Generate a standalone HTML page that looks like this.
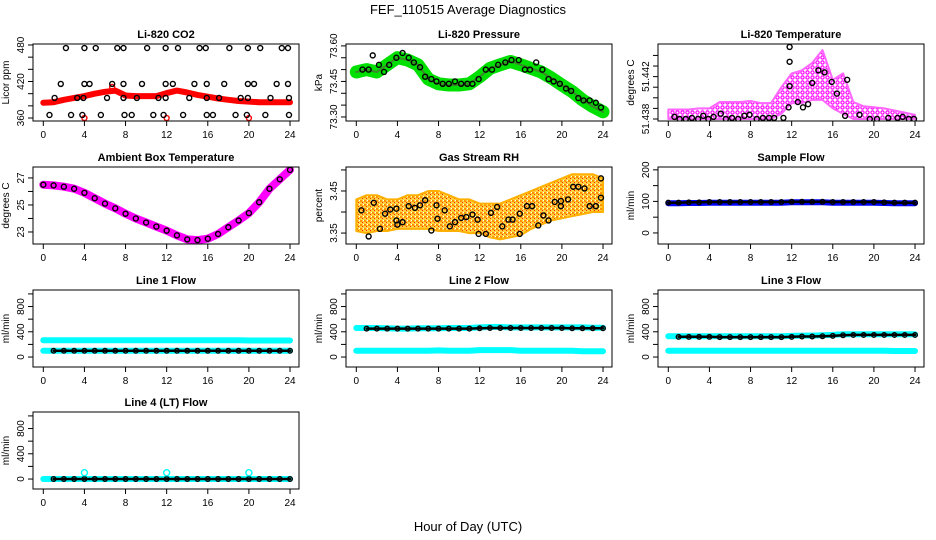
<!DOCTYPE html>
<html><head><meta charset="utf-8"><title>FEF_110515 Average Diagnostics</title>
<style>
html,body{margin:0;padding:0;background:#fff;}
svg{display:block;font-family:"Liberation Sans",sans-serif;}
</style></head>
<body>
<svg id="chart" width="936" height="540" viewBox="0 0 936 540" xmlns="http://www.w3.org/2000/svg">
<defs>
<pattern id="rhpat" width="4" height="4" patternUnits="userSpaceOnUse"><rect width="4" height="4" fill="#FFD040"/><rect x="0" y="0" width="2" height="2" fill="#FF9000"/><rect x="2" y="2" width="1" height="1" fill="#FF2000"/><rect x="3" y="0" width="1" height="1" fill="#fff"/></pattern>
<pattern id="tpat" width="5" height="5" patternUnits="userSpaceOnUse"><rect width="5" height="5" fill="#fff"/><circle cx="2.5" cy="2.5" r="1.6" fill="none" stroke="#FF00FF" stroke-width="1.2"/></pattern>
</defs>
<rect width="936" height="540" fill="#fff"/>
<text x="468" y="14" font-size="13" text-anchor="middle">FEF_110515  Average Diagnostics</text>
<text x="468" y="531" font-size="13" text-anchor="middle">Hour of Day (UTC)</text>
</svg>
<script>
const hours = [0,1,2,3,4,5,6,7,8,9,10,11,12,13,14,15,16,17,18,19,20,21,22,23,24];
const xTicks = [0,4,8,12,16,20,24];

const co2Band = [385,386,390,393,396,400,403,405,397,396,396,396,401,405,402,398,395,392,390,388,387,386,386,386,386];
const co2BlackHours = [2.2,4.0,5.1,7.2,7.8,10.1,11.9,13.1,15.2,15.8,18.1,19.9,21.1,23.2,23.8, 1.7,4.0,4.5,6.7,7.8,9.6,11.9,12.6,14.7,15.9,17.6,19.9,20.5,22.7,23.8, 1.1,3.3,3.9,6.2,7.8,9.1,11.2,11.9,14.2,15.9,17.1,19.2,19.9,22.1,23.9, 0.6,2.7,3.8,5.6,7.9,8.6,10.7,11.7,13.6,15.9,16.5,18.7,19.8,21.6,23.9];
const co2BlackVals = [475,475,475,475,475,475,475,475,475,475,475,475,475,475,475, 416,416,416,416,416,416,416,416,416,416,416,416,416,416,416, 393,393,393,393,393,393,393,393,393,393,393,393,393,393,393, 365,365,365,365,365,365,365,365,365,365,365,365,365,365,365];
const co2RedHours = [4,12,20,6.7];
const co2RedVals = [360,360,360,411];
const co2Ticks = [360,380,400,420,440,460,480];
const co2Labels = ["360","","","420","","","480"];

const presBand = [73.49,73.50,73.49,73.52,73.55,73.54,73.52,73.46,73.44,73.435,73.435,73.44,73.47,73.505,73.52,73.534,73.52,73.505,73.49,73.464,73.435,73.407,73.372,73.344,73.322];
const presBlackHours = [0.6,1.2,1.6,2.2,2.7,3.2,3.9,4.5,5.1,5.6,6.2,6.7,7.3,7.8,8.4,9,9.6,10.2,10.8,11.3,11.9,12.6,13.2,13.8,14.5,15.1,15.8,16.4,16.9,17.5,18.1,18.7,19.2,19.8,20.4,20.9,21.6,22.1,22.7,23.3,23.8];
const presBlackVals = [73.50,73.50,73.56,73.52,73.49,73.52,73.55,73.57,73.55,73.53,73.51,73.47,73.46,73.45,73.44,73.44,73.45,73.44,73.44,73.44,73.46,73.50,73.50,73.52,73.53,73.54,73.54,73.50,73.50,73.53,73.50,73.46,73.45,73.44,73.42,73.41,73.38,73.37,73.37,73.36,73.34];
const presTicks = [73.30,73.35,73.40,73.45,73.50,73.55,73.60];
const presLabels = ["73.30","","","73.45","","","73.60"];

const tempHi = [51.4389,51.4389,51.4389,51.4390,51.4390,51.4396,51.4396,51.4396,51.4397,51.4395,51.4395,51.4410,51.4423,51.4426,51.4433,51.4445,51.4417,51.4423,51.4396,51.4392,51.4391,51.4390,51.4388,51.4386,51.4384];
const tempLo = [51.4380,51.4380,51.4380,51.4380,51.4380,51.4380,51.4380,51.4380,51.4380,51.4380,51.4380,51.4385,51.4395,51.4395,51.4398,51.4398,51.4390,51.4385,51.4380,51.4380,51.4380,51.4380,51.4380,51.4380,51.4380];
const tempBlackHours = [0.6,1.1,1.7,2.3,2.9,3.4,3.9,4.4,5.1,5.6,6.2,6.8,7.4,7.9,8.6,9.2,9.8,10.3,11.2,11.7,11.8,11.8,11.8,12.6,13.1,13.6,14.0,14.6,15.2,15.9,16.4,17.4,17.2,18.6,19.6,20.3,21.4,22.3,22.8,23.4,23.9];
const tempBlackVals = [51.4382,51.4380,51.4380,51.4381,51.4380,51.4383,51.4380,51.4382,51.4385,51.4380,51.4381,51.4380,51.4383,51.4384,51.4380,51.4381,51.4381,51.4381,51.4381,51.4391,51.4411,51.4434,51.4448,51.4396,51.4391,51.4394,51.4414,51.4426,51.4424,51.4415,51.4404,51.4417,51.4383,51.4384,51.4380,51.4380,51.4381,51.4381,51.4382,51.4380,51.4380];
const tempTicks = [51.438,51.439,51.440,51.441,51.442,51.443,51.444];
const tempLabels = ["51.438","","","","51.442","",""];

const ambBand = [26.5,26.45,26.35,26.2,25.9,25.5,25.1,24.75,24.35,24.0,23.7,23.4,23.1,22.75,22.45,22.4,22.5,22.85,23.35,23.85,24.4,25.2,26.2,26.9,27.6];
const ambTicks = [23,24,25,26,27];
const ambLabels = ["23","","25","","27"];

const rhHi = [3.43,3.44,3.44,3.43,3.43,3.44,3.44,3.45,3.45,3.44,3.43,3.43,3.42,3.42,3.42,3.43,3.44,3.45,3.46,3.47,3.48,3.49,3.49,3.49,3.48];
const rhLo = [3.355,3.35,3.355,3.355,3.36,3.36,3.36,3.36,3.355,3.355,3.355,3.35,3.35,3.34,3.335,3.34,3.345,3.36,3.37,3.38,3.385,3.39,3.395,3.4,3.4];
const rhBlackHours = [0.5,1.7,1.2,2.3,2.8,3.3,3.9,3.9,4.0,4.5,5.1,5.7,6.2,6.7,7.3,7.8,7.9,8.6,9.1,9.6,10.2,10.7,11.3,11.8,11.9,12.6,13.1,13.7,14.2,14.8,15.2,15.9,15.9,16.6,17.1,17.7,18.2,18.7,19.3,19.9,19.9,20.6,21.1,21.6,22.2,22.7,23.3,23.8,23.8];
const rhBlackVals = [3.404,3.422,3.342,3.36,3.396,3.406,3.408,3.38,3.37,3.376,3.414,3.41,3.416,3.428,3.356,3.416,3.384,3.404,3.366,3.376,3.386,3.388,3.394,3.382,3.348,3.348,3.398,3.412,3.366,3.382,3.382,3.396,3.348,3.414,3.414,3.368,3.392,3.38,3.424,3.426,3.414,3.43,3.46,3.46,3.456,3.414,3.414,3.48,3.434];
const rhTicks = [3.35,3.40,3.45,3.50];
const rhLabels = ["3.35","","3.45",""];

const sampleBand = [94,94,95,95,96,96,96,96,96,96,96,96,97,97,97,97,96,96,96,96,96,95,94,94,94];
const sampleBlack = [96,96,97,97,98,98,98,98,98,98,98,98,99,99,99,99,98,98,98,98,98,97,96,96,96];
const sampleTicks = [0,50,100,150,200];
const sampleLabels = ["0","","100","","200"];

const flowTicks = [0,200,400,600,800,1000];
const flowLabels = ["0","","400","","800",""];
const line1Hi = [265,265,265,265,265,265,265,265,265,265,265,265,265,265,265,265,265,265,265,265,262,262,262,262,262];
const line1Lo = [100,100,100,100,100,100,100,100,100,100,100,100,100,100,100,100,100,100,100,100,100,100,100,100,100];
const line1Black = [100,100,100,100,100,100,100,100,100,100,100,100,100,100,100,100,100,100,100,100,100,100,100,100,100];
const line2Hi = [460,460,460,455,450,450,455,455,455,460,460,460,470,475,475,470,470,470,470,470,470,470,470,465,465];
const line2Lo = [100,100,100,100,100,100,100,100,105,100,100,100,110,110,110,110,100,100,100,100,100,100,90,90,90];
const line2Black = [450,450,450,450,450,450,450,450,450,450,450,450,455,460,460,460,460,460,460,460,460,455,455,455,455];
const line3Hi = [330,330,330,330,330,330,330,330,330,330,330,330,335,340,340,345,350,360,360,360,360,360,360,360,360];
const line3Lo = [100,100,100,100,100,100,100,100,100,100,100,100,100,100,100,100,100,100,100,100,100,100,95,95,95];
const line3Black = [320,320,320,320,320,315,315,315,315,315,315,315,320,325,325,330,335,345,350,350,350,350,350,350,350];
const line4Cyan = [0,0,0,0,0,0,0,0,0,0,0,0,0,0,0,0,0,0,0,0,0,0,0,0,0];
const line4SpikeHours = [4,12,20];
const line4SpikeVals = [100,100,100];
const line4Black = [0,0,0,0,0,0,0,0,0,0,0,0,0,0,0,0,0,0,0,0,0,0,0,0,0];

const NS = "http://www.w3.org/2000/svg";
const svg = document.getElementById("chart");
function mk(tag, attrs, parent) {
  const e = document.createElementNS(NS, tag);
  for (const k in attrs) e.setAttribute(k, attrs[k]);
  (parent || svg).appendChild(e);
  return e;
}
const colX = [33, 346, 658];
const rowY = [44, 167, 290, 412];
const PW = 266, PH = 77;

function panel(col, row, title, ylab, vmin, vmax, ticks, labels, name) {
  const L = colX[col], T = rowY[row];
  const g = mk("g", {});
  
  
  const sx = h => L + 10.3 + h * 10.28;
  const sy = v => T + PH - (v - vmin) / (vmax - vmin) * PH;
  const t = mk("text", {x: L + PW / 2, y: T - 6, "font-size": 11, "font-weight": "bold", "text-anchor": "middle"}, g);
  t.textContent = title;
  
  
  const yl = mk("text", {x: 0, y: 0, "font-size": 10, "text-anchor": "middle", transform: `translate(${L - 24},${T + PH / 2}) rotate(-90)`}, g);
  yl.textContent = ylab;
  
  
  const xa = mk("g", {}, g);
  
  
  mk("line", {x1: sx(0), x2: sx(24), y1: T + PH, y2: T + PH, stroke: "#000"}, xa);
  xTicks.forEach(h => {
    mk("line", {x1: sx(h), x2: sx(h), y1: T + PH, y2: T + PH + 5, stroke: "#000"}, xa);
    const tl = mk("text", {x: sx(h), y: T + PH + 17, "font-size": 10, "text-anchor": "middle"}, xa);
    tl.textContent = h;
  });
  const ya = mk("g", {}, g);
  
  
  ticks.forEach((v, i) => {
    mk("line", {x1: L - 5, x2: L, y1: sy(v), y2: sy(v), stroke: "#000"}, ya);
    if (labels[i]) {
      const tl = mk("text", {x: 0, y: 0, "font-size": 10, "text-anchor": "middle", transform: `translate(${L - 9},${sy(v)}) rotate(-90)`}, ya);
      tl.textContent = labels[i];
    }
  });
  const plot = mk("g", {}, g);
  
  
  const cp = mk("clipPath", {id: "cp" + name}, g);
  mk("rect", {x: L, y: T, width: PW, height: PH}, cp);
  const data = mk("g", {"clip-path": `url(#cp${name})`}, plot);
  mk("rect", {x: L, y: T, width: PW, height: PH, fill: "none", stroke: "#000"}, g);
  return {sx, sy, g: data};
}
function line(p, xs, vs, color, w, name) {
  const pts = xs.map((h, i) => p.sx(h).toFixed(1) + "," + p.sy(vs[i]).toFixed(1)).join(" ");
  const e = mk("polyline", {points: pts, fill: "none", stroke: color, "stroke-width": w, "stroke-linejoin": "round", "stroke-linecap": "round"}, p.g);
  
  
}
function area(p, xs, lo, hi, fill, edge, name) {
  const top = xs.map((h, i) => p.sx(h).toFixed(1) + "," + p.sy(hi[i]).toFixed(1));
  const bot = xs.map((h, i) => p.sx(h).toFixed(1) + "," + p.sy(lo[i]).toFixed(1)).reverse();
  const e = mk("polygon", {points: top.concat(bot).join(" "), fill: fill, stroke: edge, "stroke-width": 2, "stroke-linejoin": "round"}, p.g);
  
  
}
function pts(p, xs, vs, color, r, name) {
  xs.forEach((h, i) => {
    const c = mk("circle", {cx: p.sx(h), cy: p.sy(vs[i]), r: r, fill: "none", stroke: color, "stroke-width": 1.4}, p.g);
    
    
  });
}

// CO2
let p = panel(0, 0, "Li-820 CO2", "Licor ppm", 355.1, 481.6, co2Ticks, co2Labels, "co2");
line(p, hours, co2Band, "#FF0000", 6, "co2-red-band");
pts(p, co2RedHours, co2RedVals, "#FF0000", 2.5, "co2-red-point");
pts(p, co2BlackHours, co2BlackVals, "#000", 2.5, "co2-black-point");

// Pressure
p = panel(1, 0, "Li-820 Pressure", "kPa", 73.283, 73.608, presTicks, presLabels, "pressure");
line(p, hours, presBand, "#00E000", 13, "pressure-green-band");
line(p, hours, presBand, "#3a8a2a", 2, "pressure-band-core");
pts(p, presBlackHours, presBlackVals, "#000", 2.5, "pressure-black-point");

// Temperature
p = panel(2, 0, "Li-820 Temperature", "degrees C", 51.43781, 51.44508, tempTicks, tempLabels, "temperature");
area(p, hours, tempLo, tempHi, "url(#tpat)", "#FF66FF", "temperature-magenta-cloud");
pts(p, tempBlackHours, tempBlackVals, "#000", 2.5, "temperature-black-point");

// Ambient
p = panel(0, 1, "Ambient Box Temperature", "degrees C", 22.11, 27.81, ambTicks, ambLabels, "ambient");
line(p, hours, ambBand, "#FF00FF", 8, "ambient-magenta-band");
pts(p, hours, ambBand, "#000", 2.5, "ambient-black-point");

// RH
p = panel(1, 1, "Gas Stream RH", "percent", 3.324, 3.507, rhTicks, rhLabels, "rh");
area(p, hours, rhLo, rhHi, "url(#rhpat)", "#FFB000", "rh-orange-cloud");
pts(p, rhBlackHours, rhBlackVals, "#000", 2.5, "rh-black-point");

// Sample flow
p = panel(2, 1, "Sample Flow", "ml/min", -35, 209, sampleTicks, sampleLabels, "sample-flow");
line(p, hours, sampleBand, "#0000FF", 6, "sample-blue-band");
line(p, hours, sampleBlack, "#000", 2.5, "sample-black-line");
pts(p, hours, sampleBlack, "#000", 2.3, "sample-black-point");

function flowPanel(col, row, title, hi, lo, blk, name) {
  const q = panel(col, row, title, "ml/min", -158, 1062, flowTicks, flowLabels, name);
  if (hi) line(q, hours, hi, "#00FFFF", 6, name + "-cyan-high");
  line(q, hours, lo, "#00FFFF", 6, name + "-cyan-low");
  line(q, hours.slice(1), blk.slice(1), "#000", 2.5, name + "-black-line");
  pts(q, hours.slice(1), blk.slice(1), "#000", 2.3, name + "-black-point");
  return q;
}
flowPanel(0, 2, "Line 1 Flow", line1Hi, line1Lo, line1Black, "line1-flow");
flowPanel(1, 2, "Line 2 Flow", line2Hi, line2Lo, line2Black, "line2-flow");
flowPanel(2, 2, "Line 3 Flow", line3Hi, line3Lo, line3Black, "line3-flow");
p = flowPanel(0, 3, "Line 4 (LT) Flow", null, line4Cyan, line4Black, "line4-flow");
pts(p, line4SpikeHours, line4SpikeVals, "#00FFFF", 3, "line4-cyan-spike");
</script>
</body></html>
